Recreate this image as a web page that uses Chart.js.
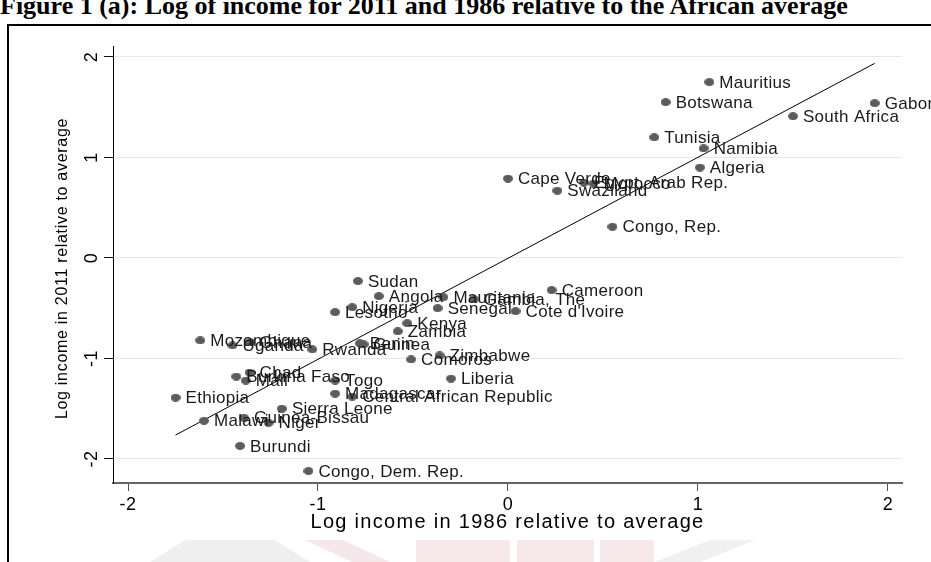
<!DOCTYPE html>
<html>
<head>
<meta charset="utf-8">
<script src="https://cdn.jsdelivr.net/npm/chart.js@4/dist/chart.umd.min.js"></script>
<style>
  html, body { margin: 0; padding: 0; background: #fff; }
  #wrap { position: relative; width: 931px; height: 562px; overflow: hidden; background: #fff; }
  #title { position: absolute; left: 0; top: -7px; font: bold 26px "Liberation Serif", "Times New Roman", serif;
           line-height: 26px; white-space: nowrap; color: #000; }
  #frame { position: absolute; left: 7px; top: 24px; width: 960px; height: 600px;
           border-left: 2px solid #000; border-top: 2px solid #000; }
  .wm { position: absolute; }
  canvas { position: absolute; left: 0; top: 0; }
</style>
</head>
<body>
<div id="wrap">
  <div class="wm" style="left:150px;top:540px;width:160px;height:22px;background:#efefef;clip-path:polygon(0 100%,22% 0,78% 0,100% 100%);"></div>
  <div class="wm" style="left:305px;top:540px;width:85px;height:22px;background:#f6e8ea;clip-path:polygon(0 0,45% 0,100% 100%,55% 100%);"></div>
  <div class="wm" style="left:416px;top:540px;width:94px;height:22px;background:#f7e9eb;"></div>
  <div class="wm" style="left:517px;top:540px;width:77px;height:22px;background:#f7e9eb;"></div>
  <div class="wm" style="left:600px;top:540px;width:54px;height:22px;background:#f7e9eb;"></div>
  <div class="wm" style="left:655px;top:540px;width:100px;height:22px;background:#f0f0f0;clip-path:polygon(0 100%,55% 0,100% 0,45% 100%);"></div>
  <div id="title">Figure 1 (a): Log of income for 2011 and 1986 relative to the African average</div>
  <div id="frame"></div>
  <canvas id="chart" width="931" height="562"></canvas>
</div>
<script>
// Countries and log income relative to the African average
const countries = [
  "Mauritius", "Botswana", "Gabon", "South Africa", "Tunisia", "Namibia", "Algeria",
  "Cape Verde", "Egypt, Arab Rep.", "Morocco", "Swaziland", "Congo, Rep.",
  "Sudan", "Angola", "Mauritania", "Gambia, The", "Cameroon", "Nigeria", "Lesotho",
  "Senegal", "Cote d'Ivoire", "Kenya", "Zambia", "Benin", "Guinea",
  "Mozambique", "Ghana", "Uganda", "Rwanda", "Comoros", "Zimbabwe", "Liberia",
  "Togo", "Madagascar", "Central African Republic", "Chad", "Burkina Faso", "Mali",
  "Ethiopia", "Malawi", "Guinea-Bissau", "Niger", "Sierra Leone", "Burundi",
  "Congo, Dem. Rep."
];
const income1986 = [
  1.06, 0.83, 1.93, 1.50, 0.77, 1.03, 1.01,
  0.00, 0.40, 0.45, 0.26, 0.55,
  -0.79, -0.68, -0.34, -0.18, 0.23, -0.82, -0.91,
  -0.37, 0.04, -0.53, -0.58, -0.78, -0.76,
  -1.62, -1.36, -1.45, -1.03, -0.51, -0.36, -0.30,
  -0.91, -0.91, -0.82, -1.36, -1.43, -1.38,
  -1.75, -1.60, -1.39, -1.26, -1.19, -1.41,
  -1.05
];
const income2011 = [
  1.75, 1.55, 1.54, 1.41, 1.20, 1.09, 0.90,
  0.79, 0.75, 0.74, 0.67, 0.31,
  -0.23, -0.38, -0.39, -0.41, -0.32, -0.49, -0.54,
  -0.50, -0.53, -0.65, -0.73, -0.85, -0.86,
  -0.82, -0.84, -0.87, -0.91, -1.01, -0.97, -1.20,
  -1.22, -1.35, -1.38, -1.14, -1.18, -1.22,
  -1.39, -1.62, -1.59, -1.64, -1.50, -1.87,
  -2.12
];
const xTicks = [-2, -1, 0, 1, 2];
const yTicks = [-2, -1, 0, 1, 2];
const xTitle = "Log income in 1986 relative to average";
const yTitle = "Log income in 2011 relative to average";

const SANS = '"Liberation Sans", Arial, sans-serif';

// Least-squares fitted line across the observed range
function olsFit(xs, ys) {
  const n = xs.length;
  const mx = xs.reduce((a, b) => a + b, 0) / n;
  const my = ys.reduce((a, b) => a + b, 0) / n;
  let sxy = 0, sxx = 0;
  for (let i = 0; i < n; i++) { sxy += (xs[i] - mx) * (ys[i] - my); sxx += (xs[i] - mx) ** 2; }
  const b = sxy / sxx;
  return { a: my - b * mx, b };
}
const fit = olsFit(income1986, income2011);
const xLo = Math.min(...income1986), xHi = Math.max(...income1986);
const fitPoints = [xLo, xHi].map(x => ({ x, y: fit.a + fit.b * x }));

// Slightly flattened marker
function makeMarker() {
  const c = document.createElement('canvas');
  c.width = 10; c.height = 8;
  const g = c.getContext('2d');
  g.fillStyle = '#5c5c5c';
  g.beginPath();
  g.ellipse(5, 4, 5, 4, 0, 0, Math.PI * 2);
  g.fill();
  return c;
}
const marker = makeMarker();

// Country names beside the markers, plus the two axis titles
const annotations = {
  id: 'annotations',
  beforeDraw(chart) { chart.ctx.letterSpacing = '0.6px'; },
  afterDatasetsDraw(chart) {
    const ctx = chart.ctx;
    const meta = chart.getDatasetMeta(0);
    ctx.save();
    ctx.letterSpacing = '0.3px';
    ctx.font = '17px ' + SANS;
    ctx.fillStyle = '#1a1a1a';
    ctx.textAlign = 'left';
    ctx.textBaseline = 'middle';
    meta.data.forEach((pt, i) => {
      ctx.fillText(countries[i], pt.x + 10, pt.y + 1);
    });
    ctx.restore();
  },
  afterDraw(chart) {
    const ctx = chart.ctx;
    const area = chart.chartArea;
    ctx.save();
    ctx.fillStyle = '#000';
    ctx.textAlign = 'center';
    ctx.textBaseline = 'middle';
    ctx.letterSpacing = '1.3px';
    ctx.font = '20px ' + SANS;
    ctx.fillText(xTitle, (area.left + area.right) / 2, area.bottom + 39);
    ctx.restore();

    ctx.save();
    ctx.fillStyle = '#000';
    ctx.textAlign = 'center';
    ctx.textBaseline = 'middle';
    ctx.letterSpacing = '0.7px';
    ctx.font = '16px ' + SANS;
    ctx.translate(area.left - 50, (area.top + area.bottom) / 2 + 4);
    ctx.rotate(-Math.PI / 2);
    ctx.fillText(yTitle, 0, 0);
    ctx.restore();
  }
};

new Chart(document.getElementById('chart'), {
  type: 'scatter',
  data: {
    datasets: [
      {
        data: income1986.map((x, i) => ({ x, y: income2011[i] })),
        pointStyle: marker,
        pointRadius: 5,
        pointHoverRadius: 5
      },
      {
        type: 'line',
        data: fitPoints,
        borderColor: '#000',
        borderWidth: 1,
        pointRadius: 0,
        fill: false
      }
    ]
  },
  options: {
    responsive: false,
    animation: false,
    events: [],
    layout: { padding: { left: 0, right: 29, top: 46, bottom: 0 } },
    plugins: { legend: { display: false }, tooltip: { enabled: false } },
    scales: {
      x: {
        type: 'linear',
        min: -2.079, max: 2.074,
        afterBuildTicks(s) { s.ticks = xTicks.map(v => ({ value: v })); },
        afterFit(s) { s.height = 79; },
        border: { color: '#666', width: 2 },
        grid: { drawOnChartArea: false, tickLength: 8, tickColor: '#555', tickWidth: 1 },
        ticks: { color: '#000', padding: 3, maxRotation: 0, font: { family: SANS, size: 18 } },
        title: { display: false }
      },
      y: {
        type: 'linear',
        min: -2.239, max: 2.109,
        afterBuildTicks(s) { s.ticks = yTicks.map(v => ({ value: v })); },
        afterFit(s) { s.width = 113; },
        border: { color: '#000', width: 1 },
        grid: { color: '#e8e8e8', lineWidth: 1, tickLength: 9, tickColor: '#111', tickWidth: 1 },
        ticks: { color: '#000', padding: 4, minRotation: 90, maxRotation: 90, crossAlign: 'center',
                 font: { family: SANS, size: 18 } },
        title: { display: false }
      }
    }
  },
  plugins: [annotations]
});
</script>
</body>
</html>
